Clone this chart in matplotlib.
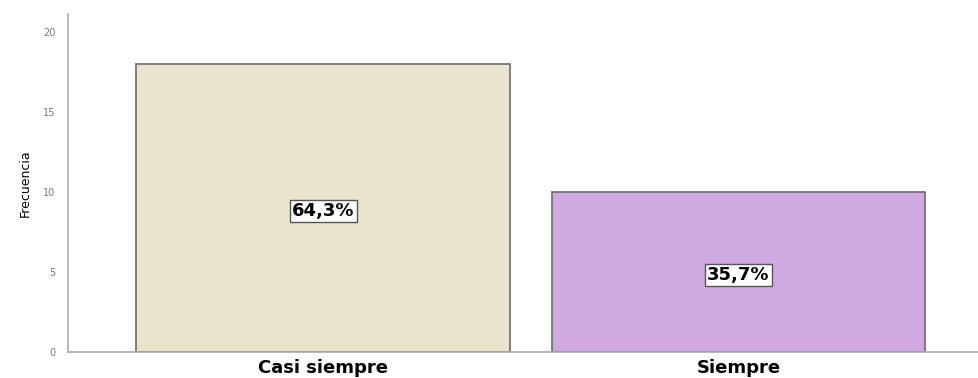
import matplotlib.pyplot as plt

categorias = ["Casi siempre", "Siempre"]
frecuencias = [18, 10]
porcentajes = ["64,3%", "35,7%"]
colores = ["#EAE3CD", "#D0A9E2"]

fig = plt.figure(figsize=(9.79, 3.78), dpi=100)
ax = fig.add_axes([0.0695, 0.069, 0.9305, 0.894])

x = range(len(categorias))
barras = ax.bar(x, frecuencias, width=0.9, color=colores,
                edgecolor="#6b6b6b", linewidth=1.2)

for b, txt in zip(barras, porcentajes):
    ax.text(b.get_x() + b.get_width() / 2, b.get_height() / 2 - 0.2, txt,
            ha="center", va="center", fontsize=13, fontweight="bold",
            family="DejaVu Sans",
            bbox=dict(facecolor="white", edgecolor="#555555", linewidth=1,
                      boxstyle="square,pad=0.12"))

ax.set_xlim(-0.614, 1.579)
ax.set_ylim(0, 21.1)
ax.set_yticks([0, 5, 10, 15, 20])
ax.set_xticks(list(x))
ax.set_xticklabels(categorias, fontsize=13, fontweight="bold")
ax.tick_params(axis="x", length=0, pad=5)
ax.tick_params(axis="y", length=0, labelsize=7, labelcolor="#777777", pad=9)
ax.set_ylabel("Frecuencia", fontsize=9, family="Liberation Sans Narrow",
              labelpad=8)

for s in ["top", "right"]:
    ax.spines[s].set_visible(False)
for s in ["left", "bottom"]:
    ax.spines[s].set_color("#aaaaaa")
    ax.spines[s].set_linewidth(1.2)

fig.savefig("out.png", dpi=100)
